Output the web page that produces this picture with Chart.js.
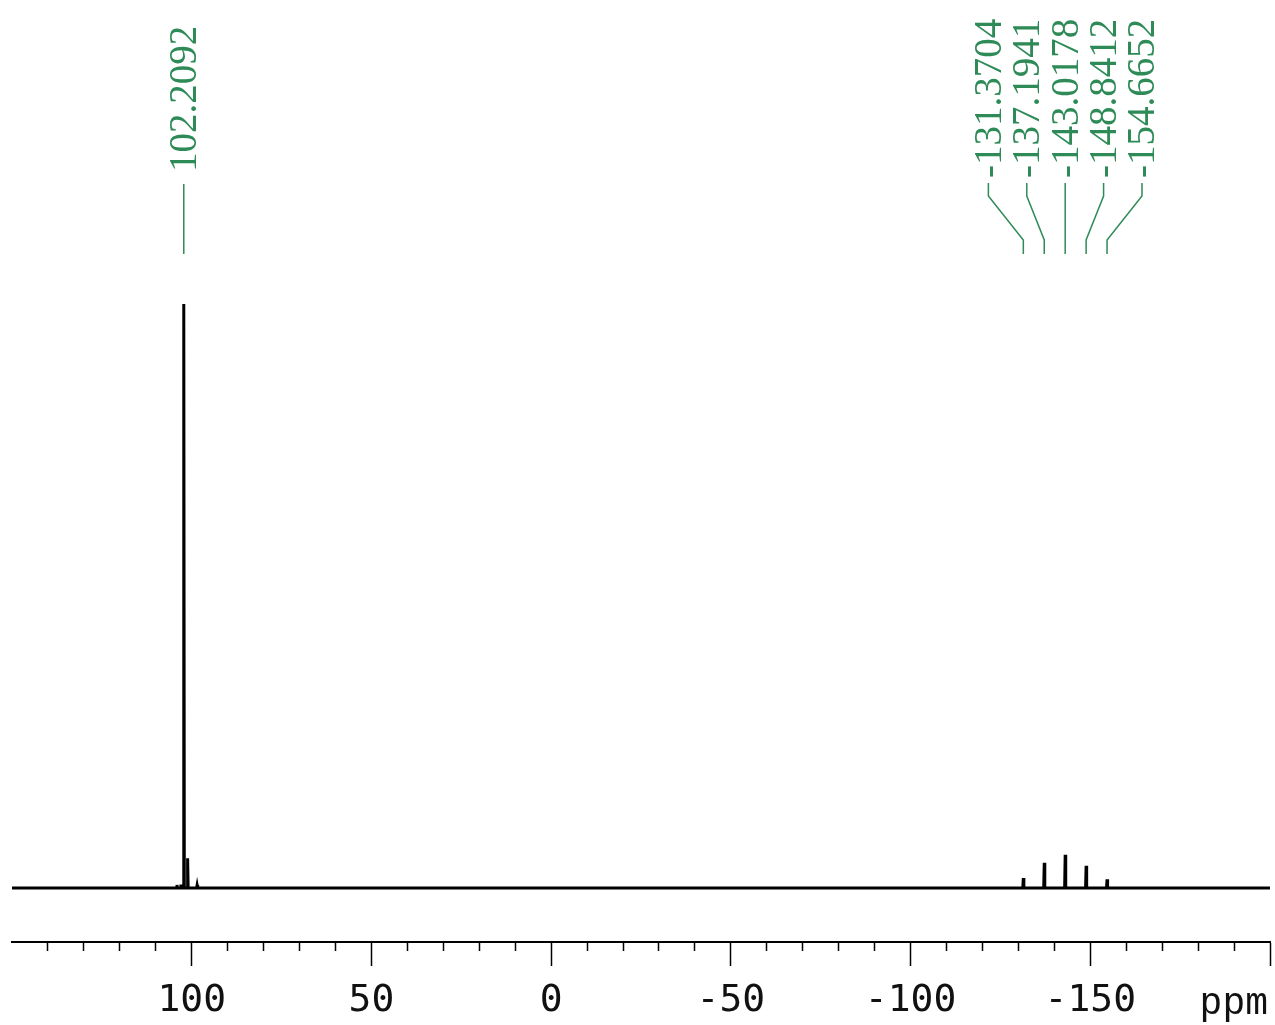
<!DOCTYPE html>
<html>
<head>
<meta charset="utf-8">
<script src="https://cdn.jsdelivr.net/npm/chart.js@4/dist/chart.umd.min.js"></script>
<style>
  html, body { margin: 0; padding: 0; background: #fff; }
  canvas { display: block; }
  .preload { position: absolute; left: -9999px; top: 0; }
</style>
</head>
<body>
<span class="preload" style="font-family:'Liberation Serif','DejaVu Serif'">102.2092</span>
<span class="preload" style="font-family:'Liberation Mono','DejaVu Sans Mono'">ppm</span>
<canvas id="nmr" width="1275" height="1025"></canvas>
<script>
// peak positions (ppm) and intensities (main peak = 100)
const peakShifts  = [104.1, 103.0, 102.2092, 101.14, 98.5, -131.3704, -137.1941, -143.0178, -148.8412, -154.6652];
const peakHeights = [0.5,   0.6,   100,      5.1,    0.5,  1.7,       4.3,       5.7,       3.8,       1.5];

// picked peaks shown on top
const leftLabels  = [102.2092];
const groupLabels = [-131.3704, -137.1941, -143.0178, -148.8412, -154.6652];

const axisMin = -200;
const axisMax = 150;
const majorStep = 50;
const minorStep = 10;

const green = '#2e8b57';
const serifFont = '"Liberation Serif", "Tinos", "DejaVu Serif", "Noto Serif", serif';
const monoFont = '"Liberation Mono", "Cousine", "Courier New", "DejaVu Sans Mono", monospace';

// build the spectrum trace: flat baseline with narrow lines at each shift
function buildTrace() {
  const pts = [{ x: axisMax, y: 0 }];
  const order = peakShifts.map((p, i) => i).sort((a, b) => peakShifts[b] - peakShifts[a]);
  order.forEach(i => {
    const p = peakShifts[i];
    pts.push({ x: p + 0.15, y: 0 });
    pts.push({ x: p, y: peakHeights[i] });
    pts.push({ x: p - 0.15, y: 0 });
  });
  pts.push({ x: axisMin, y: 0 });
  return pts;
}

const fmt = v => v.toFixed(4);

const peakLabels = {
  id: 'peakLabels',
  afterDraw(chart) {
    const ctx = chart.ctx;
    const xs = chart.scales.x;
    ctx.save();
    ctx.strokeStyle = green;
    ctx.fillStyle = green;
    ctx.lineWidth = 1.5;
    ctx.font = '39px ' + serifFont;
    ctx.textAlign = 'left';
    ctx.textBaseline = 'alphabetic';

    const drawText = (txt, cx, yStart) => {
      ctx.save();
      ctx.translate(cx + 12.5, yStart);
      ctx.rotate(-Math.PI / 2);
      ctx.fillText(txt, 0, 0);
      ctx.restore();
    };

    // single label over the big peak
    leftLabels.forEach(p => {
      const px = xs.getPixelForValue(p);
      drawText(fmt(p), px, 172);
      ctx.beginPath();
      ctx.moveTo(px, 184);
      ctx.lineTo(px, 254);
      ctx.stroke();
    });

    // fanned group of labels
    const gap = 38.4;
    const mid = xs.getPixelForValue(groupLabels[Math.floor(groupLabels.length / 2)]);
    groupLabels.forEach((p, i) => {
      const px = xs.getPixelForValue(p);
      const tx = mid + (i - (groupLabels.length - 1) / 2) * gap;
      drawText(fmt(p), tx, 178);
      ctx.beginPath();
      ctx.moveTo(tx, 183);
      ctx.lineTo(tx, 196);
      ctx.lineTo(px, 240);
      ctx.lineTo(px, 254);
      ctx.stroke();
    });

    // unit label at the right end of the axis
    ctx.fillStyle = '#111';
    ctx.font = '38px ' + monoFont;
    ctx.textAlign = 'right';
    ctx.fillText('ppm', 1268, 1014);
    ctx.restore();
  }
};

function drawChart() {
  new Chart(document.getElementById('nmr'), {
    type: 'line',
    data: {
      datasets: [{
        data: buildTrace(),
        borderColor: '#000',
        borderWidth: 3,
        pointRadius: 0,
        tension: 0,
        fill: false
      }]
    },
    options: {
      responsive: false,
      animation: false,
      devicePixelRatio: 1,
      layout: { padding: { left: 12, right: 5, top: 0, bottom: 0 } },
      plugins: { legend: { display: false }, tooltip: { enabled: false } },
      scales: {
        x: {
          type: 'linear',
          reverse: true,
          min: axisMin,
          max: axisMax,
          afterFit: s => {
            s.height = 83;
            s.paddingLeft = 0;
            s.paddingRight = 0;
          },
          border: { color: '#000', width: 2 },
          grid: {
            drawOnChartArea: false,
            tickLength: 24,
            tickWidth: 1.5,
            tickColor: c => c.tick && c.tick.value === axisMax ? 'rgba(0,0,0,0)' : '#000',
            tickBorderDash: c => c.tick && c.tick.value % majorStep !== 0 ? [8, 200] : []
          },
          ticks: {
            stepSize: minorStep,
            autoSkip: false,
            maxRotation: 0,
            padding: 12,
            color: '#111',
            font: { family: '"DejaVu Sans Mono"', size: 38 },
            callback: v => (v % majorStep === 0 && v !== axisMin && v !== axisMax) ? String(v) : ''
          }
        },
        y: {
          display: false,
          min: -9.25,
          max: 152.05
        }
      }
    },
    plugins: [peakLabels]
  });
}

Promise.all([
  document.fonts.load('39px "Liberation Serif"'),
  document.fonts.load('39px "DejaVu Serif"'),
  document.fonts.load('38px "Liberation Mono"')
]).then(drawChart, drawChart);
</script>
</body>
</html>
